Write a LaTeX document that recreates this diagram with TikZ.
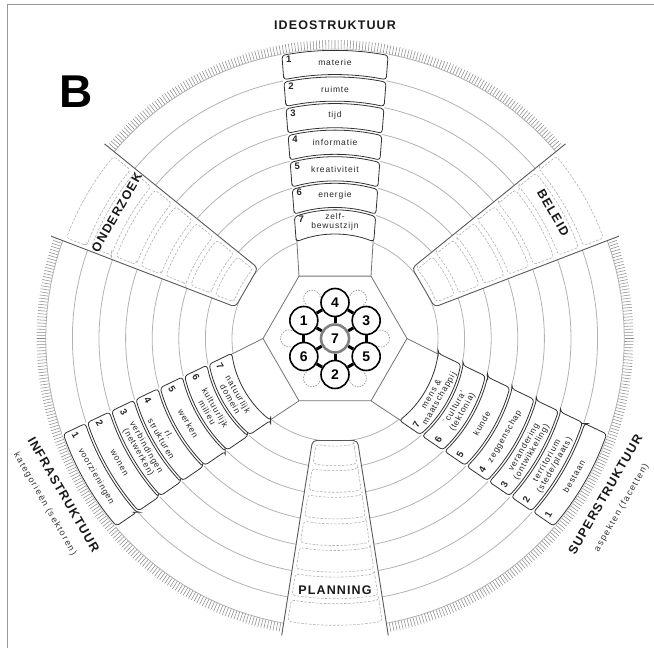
\documentclass[tikz,border=0pt]{standalone}
\usepackage{fontspec}
\setmainfont{Liberation Sans}
\newfontfamily\headfont[LetterSpace=9]{Liberation Sans}
\newfontfamily\boxfont[LetterSpace=10]{Liberation Sans}
\newfontfamily\subfont[LetterSpace=15]{Liberation Sans}
\usetikzlibrary{calc}
% box arm: #1 scope rotation, #2 text rotation, #3 flip (1 / -1), #4 name prefix, #5 labels
\newcommand\BoxArm[5]{%
\begin{scope}[shift={(C)},rotate=#1]
  \pgfmathsetmacro\TopR{103+26.6*7}
  \pgfmathsetmacro\TopT{asin((36+(\TopR-62.35)*0.078)/\TopR)}
  \fill[white] (-36,62.35) -- (90+\TopT:\TopR) arc[start angle=90+\TopT,end angle=90-\TopT,radius=\TopR] -- (36,62.35) -- cycle;
  \draw[hexline] (-36,62.35) -- (-38.3,100) (36,62.35) -- (38.3,100);
  \foreach \k/\lab in {#5}{
    \pgfmathsetmacro\Ro{103+26.6*(8-\k)-1.2}
    \pgfmathsetmacro\Ri{103+26.6*(7-\k)+1.2}
    \pgfmathsetmacro\To{asin((36+(\Ro-62.35)*0.078-0.5)/\Ro)}
    \pgfmathsetmacro\Ti{asin((36+(\Ri-62.35)*0.078-0.5)/\Ri)}
    \pgfmathsetmacro\Rm{(\Ro+\Ri)/2}
    \pgfmathsetmacro\Hm{36+(\Rm-62.35)*0.078}
    \draw[boxline] (90+\Ti:\Ri) -- (90+\To:\Ro) arc[start angle=90+\To,end angle=90-\To,radius=\Ro] -- (90-\Ti:\Ri) arc[start angle=90-\Ti,end angle=90+\Ti,radius=\Ri] -- cycle;
    \node[boxtext,rotate=#2] (#4\k) at (0,\Rm) {\lab};
    \node[numtext,rotate=#2] (#4n\k) at ({#3*(6.5-\Hm)},{\Rm+#3*3}) {\k};
  }
\end{scope}}
% outline arm: #1 scope rotation, #2 label, #3 label rotation, #4 name
\newcommand\OutArm[4]{%
\begin{scope}[shift={(C)},rotate=#1]
  \fill[white] (-22.5,102) -- (-54.6,305) -- (54.6,305) -- (22.5,102) -- cycle;
  \foreach \j in {0,...,6}{
    \pgfmathsetmacro\Ri{103+26.6*\j+ifthenelse(\j==0,4.5,2.5)}
    \pgfmathsetmacro\Ro{103+26.6*(\j+1)-2.5}
    \pgfmathsetmacro\Ti{asin((22.5+(\Ri-102)*0.158-4.5)/\Ri)}
    \pgfmathsetmacro\To{asin((22.5+(\Ro-102)*0.158-4.5)/\Ro)}
    \draw[dashbox] (90+\Ti:\Ri) -- (90+\To:\Ro) arc[start angle=90+\To,end angle=90-\To,radius=\Ro] -- (90-\Ti:\Ri) arc[start angle=90-\Ti,end angle=90+\Ti,radius=\Ri] -- cycle;
  }
  \draw[armline] (-53.3,297) -- (-22.5,102) -- (22.5,102) -- (53.3,297);
  \node[headtext,rotate=#3] (#4) at (0,252) {#2};
\end{scope}}
\begin{document}
\begin{tikzpicture}[x=1pt,y=1pt,
  framel/.style={draw=black!40,line width=1},
  ringline/.style={draw=black!30,line width=0.8},
  tickline/.style={draw=black!45,line width=0.55},
  boxline/.style={draw=black!80,line width=0.8,fill=white,rounded corners=3pt},
  hexline/.style={draw=black!55,line width=0.8},
  armline/.style={draw=black!65,line width=0.9,rounded corners=4pt},
  dashbox/.style={draw=black!30,line width=0.6,dash pattern=on 2.5pt off 1.5pt,rounded corners=3pt},
  boxtext/.style={font=\boxfont\fontsize{8.5}{9}\selectfont,align=center,inner sep=0pt,text=black!85},
  numtext/.style={font=\fontsize{9.5}{9.5}\selectfont\bfseries,inner sep=0pt,text=black!85},
  headtext/.style={font=\headfont\fontsize{12.5}{14}\selectfont\bfseries,inner sep=0pt,text=black!90},
  subtext/.style={font=\subfont\fontsize{9}{11}\selectfont,inner sep=0pt,text=black!80},
  clus/.style={circle,draw=black,line width=1.6,minimum size=28pt,inner sep=0pt,fill=white,font=\fontsize{14}{14}\selectfont\bfseries},
  clusmid/.style={clus,draw=black!50,line width=2.6},
  bar/.style={draw=black,line width=3},
  loopline/.style={draw=black!40,line width=0.7,dash pattern=on 1.5pt off 1.2pt}]
\useasboundingbox (0,0) rectangle (654,648);
\coordinate (C) at (335,309.5);
% frame
\draw[framel] (7,0) -- (7,643.5) -- (654,643.5);
% rings
\foreach \j in {0,...,7}{
  \draw[ringline] (C) circle[radius=103+26.6*\j];
}
% ticks
\begin{scope}[shift={(C)}]
  \foreach \a in {0,0.6,...,359.7}{
    \draw[tickline] (\a:289.5) -- (\a:298.5);
  }
\end{scope}
% box arms
\BoxArm{0}{0}{1}{ideo}{1/materie,2/ruimte,3/tijd,4/informatie,5/kreativiteit,6/energie,7/{zelf-\\bewustzijn}}
\BoxArm{-120}{60}{-1}{super}{1/bestaan,2/{territorium\\(stede/plaats)},3/{verandering\\(ontwikkeling)},4/zeggenschap,5/kunde,6/{`cultura'\\(tektonia)},7/{mens \&\\maatschappij}}
\BoxArm{120}{-60}{-1}{infra}{1/voorzieningen,2/wonen,3/{verbindingen\\(netwerken)},4/{rl.\\strukturen},5/werken,6/{kultuurlijk\\milieu},7/{natuurlijk\\domein}}
% outline arms
\OutArm{-60}{BELEID}{-60}{beleid}
\OutArm{180}{PLANNING}{0}{planning}
\OutArm{60}{ONDERZOEK}{60}{onderzoek}
% hexagon and cluster
\begin{scope}[shift={(C)}]
  \draw[hexline,fill=white] (0:72) -- (60:72) -- (120:72) -- (180:72) -- (240:72) -- (300:72) -- cycle;
  \foreach \a in {0,60,...,300}{
    \draw[loopline] (\a:46) ++(\a-110:8.5) arc[start angle=\a-110,end angle=\a+110,radius=8.5];
  }
  \node[clusmid] (c7) at (0,0) {7};
  \node[clus] (c4) at (90:36) {4};
  \node[clus] (c3) at (30:36) {3};
  \node[clus] (c5) at (-30:36) {5};
  \node[clus] (c2) at (-90:36) {2};
  \node[clus] (c6) at (210:36) {6};
  \node[clus] (c1) at (150:36) {1};
  \foreach \p/\q in {7/1,7/2,7/3,7/4,7/5,7/6,1/4,4/3,3/5,5/2,2/6,6/1}{
    \draw[bar] (c\p) -- (c\q);
  }
\end{scope}
% titles
\node[headtext] (ideoT) at ($(C)+(90:313)$) {IDEOSTRUKTUUR};
\node[headtext,rotate=60] (superT) at ($(C)+(-30:312)$) {SUPERSTRUKTUUR};
\node[subtext,rotate=60] (superS) at ($(C)+(-30.6:333)$) {aspekten (facetten)};
\node[headtext,rotate=-60] (infraT) at ($(C)+(209.9:313)$) {INFRASTRUKTUUR};
\node[subtext,rotate=-60] (infraS) at ($(C)+(209.7:334)$) {kategorieën (sektoren)};
\node[font=\fontsize{46}{46}\selectfont\bfseries,inner sep=0pt] (B) at (76,556) {B};
\end{tikzpicture}
\end{document}
